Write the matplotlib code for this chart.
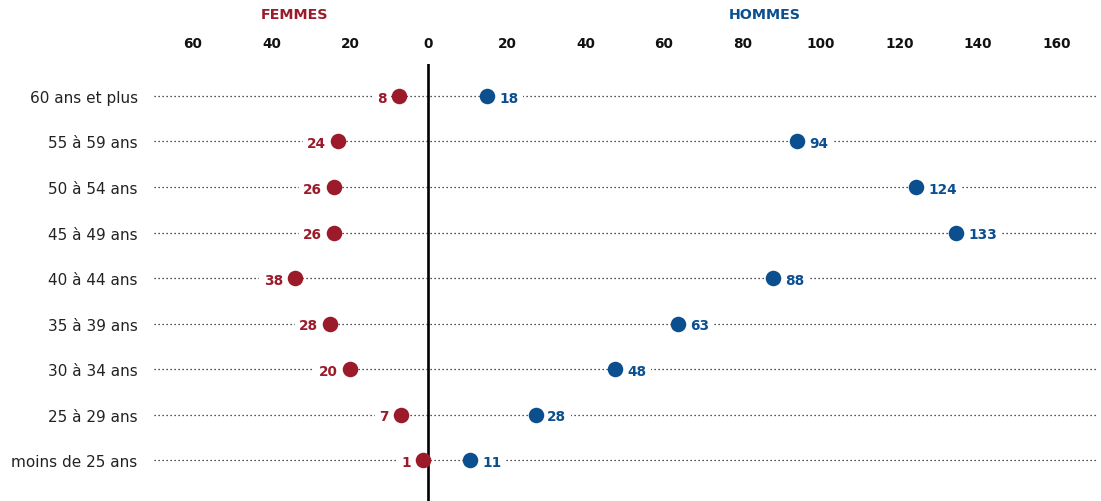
import matplotlib
matplotlib.use("Agg")
import matplotlib.pyplot as plt
import matplotlib.transforms as mtransforms

# age groups, top to bottom
groupes = [
    "60 ans et plus", "55 à 59 ans", "50 à 54 ans", "45 à 49 ans", "40 à 44 ans",
    "35 à 39 ans", "30 à 34 ans", "25 à 29 ans", "moins de 25 ans",
]
# values as printed next to each dot
femmes = [8, 24, 26, 26, 38, 28, 20, 7, 1]
hommes = [18, 94, 124, 133, 88, 63, 48, 28, 11]
# dot positions (women drawn to the left of 0)
femmes_pos = [7.6, 23, 24, 24, 34, 25, 20, 7, 1.3]
hommes_pos = [15, 94, 124.3, 134.5, 87.9, 63.7, 47.6, 27.3, 10.7]

ticks = [-60, -40, -20, 0, 20, 40, 60, 80, 100, 120, 140, 160]

ROUGE = "#9b1b2b"
BLEU = "#0b4f8f"
FONT = "DejaVu Sans"

fig = plt.figure(figsize=(11.01, 5.02), dpi=100)
ax = fig.add_axes([153.6 / 1101, 0, 942 / 1101, 437 / 502])

rows = list(range(len(groupes)))
for i in rows:
    ax.plot([-70, 170], [i, i], color="#1a1a1a", lw=0.9,
            linestyle=(0, (1, 2.2)), zorder=1)

ax.axvline(0, color="black", lw=1.9, zorder=2)

ax.scatter([-v for v in femmes_pos], rows, s=125, color=ROUGE, zorder=4,
           linewidths=0)
ax.scatter(hommes_pos, rows, s=125, color=BLEU, zorder=4, linewidths=0)

box = dict(boxstyle="square,pad=0.35", fc="white", ec="none")
for i in rows:
    ax.annotate(str(femmes[i]), (-femmes_pos[i], i), xytext=(-8.5, -1.2),
                textcoords="offset points", ha="right", va="center",
                color=ROUGE, fontsize=9.8, fontweight="bold", family=FONT,
                bbox=box, zorder=3)
    ax.annotate(str(hommes[i]), (hommes_pos[i], i), xytext=(8.5, -1.2),
                textcoords="offset points", ha="left", va="center",
                color=BLEU, fontsize=9.8, fontweight="bold", family=FONT,
                bbox=box, zorder=3)

ax.set_xlim(-70, 170)
ax.set_ylim(8.9, -0.703)

ax.xaxis.tick_top()
ax.set_xticks(ticks)
ax.set_xticklabels([str(abs(t)) for t in ticks], fontsize=9.8,
                   fontweight="bold", family=FONT, color="#111111")
ax.set_yticks(rows)
ax.set_yticklabels(groupes, fontsize=11, family=FONT, color="#222222")
ax.tick_params(axis="both", length=0)
ax.tick_params(axis="x", pad=10)
ax.tick_params(axis="y", pad=11.5)

for s in ax.spines.values():
    s.set_visible(False)

trans = mtransforms.blended_transform_factory(ax.transData, fig.transFigure)
ax.text(-34, 1 - 15 / 502, "FEMMES", transform=trans, ha="center", va="center",
        color=ROUGE, fontsize=10.3, fontweight="bold", family=FONT)
ax.text(85.8, 1 - 15 / 502, "HOMMES", transform=trans, ha="center", va="center",
        color=BLEU, fontsize=10.3, fontweight="bold", family=FONT)

fig.savefig("out.png", dpi=100)
